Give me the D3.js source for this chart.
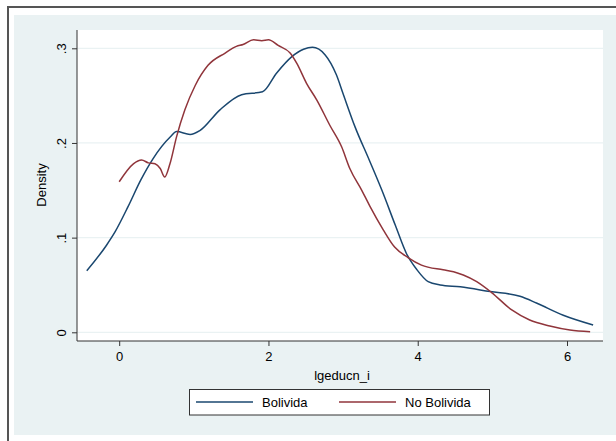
<!DOCTYPE html>
<html>
<head>
<meta charset="utf-8">
<script src="https://d3js.org/d3.v7.min.js"></script>
<style>
  body { margin: 0; background: #fff; }
  text { font-family: "Liberation Sans", Arial, sans-serif; fill: #000; }
</style>
</head>
<body>
<div id="chart"></div>
<script>
// density estimates
var bolX = [-0.435, -0.17, -0.056, 0.12, 0.29, 0.45, 0.68, 0.77, 0.95, 1.08, 1.35, 1.64, 1.92, 2.11, 2.31, 2.47, 2.59, 2.76, 2.91, 3.0, 3.16, 3.35, 3.52, 3.7, 3.85, 3.99, 4.14, 4.3, 4.57, 4.97, 5.37, 5.59, 5.95, 6.35];
var bolY = [0.065, 0.092, 0.106, 0.133, 0.161, 0.183, 0.206, 0.212, 0.209, 0.213, 0.235, 0.251, 0.254, 0.274, 0.291, 0.299, 0.301, 0.293, 0.272, 0.252, 0.217, 0.182, 0.150, 0.113, 0.083, 0.066, 0.0535, 0.050, 0.048, 0.043, 0.038, 0.031, 0.018, 0.0077];

var noX = [0.0, 0.19, 0.30, 0.39, 0.48, 0.55, 0.61, 0.68, 0.77, 0.88, 1.02, 1.19, 1.42, 1.57, 1.66, 1.80, 1.91, 2.0, 2.13, 2.29, 2.38, 2.51, 2.65, 2.82, 2.98, 3.09, 3.25, 3.36, 3.54, 3.69, 3.87, 4.05, 4.34, 4.48, 4.61, 4.79, 4.99, 5.26, 5.5, 5.77, 6.04, 6.31];
var noY = [0.159, 0.178, 0.182, 0.179, 0.178, 0.173, 0.164, 0.178, 0.207, 0.235, 0.261, 0.282, 0.295, 0.302, 0.304, 0.309, 0.308, 0.309, 0.303, 0.295, 0.284, 0.263, 0.245, 0.219, 0.196, 0.173, 0.150, 0.133, 0.108, 0.090, 0.079, 0.071, 0.066, 0.064, 0.0605, 0.0535, 0.042, 0.0236, 0.013, 0.0067, 0.0024, 0.0006];

var xTicks = [0, 2, 4, 6];
var yTicks = [0, 0.1, 0.2, 0.3];
var yTickLabels = ["0", ".1", ".2", ".3"];
var seriesNames = ["Bolivida", "No Bolivida"];
var seriesColors = ["#1a476f", "#90353b"];

var W = 616, H = 441;
var svg = d3.select("#chart").append("svg").attr("width", W).attr("height", H);

// outer frame and graph region
svg.append("rect").attr("x", 8).attr("y", 7).attr("width", W).attr("height", H)
  .attr("fill", "#fff").attr("stroke", "#555").attr("stroke-width", 2);
svg.append("rect").attr("x", 14).attr("y", 15).attr("width", W - 14).attr("height", 420)
  .attr("fill", "#eaf2f3");

var pl = 77, pr = 603, pt = 30, pb = 341;
svg.append("rect").attr("x", pl).attr("y", pt).attr("width", pr - pl).attr("height", pb - pt)
  .attr("fill", "#fff");

var x = d3.scaleLinear().domain([0, 6]).range([119.2, 567]);
var y = d3.scaleLinear().domain([0, 0.3]).range([332.3, 48.3]);

// grid
svg.append("g").selectAll("line").data(yTicks).join("line")
  .attr("x1", pl).attr("x2", pr)
  .attr("y1", function(d){ return y(d); }).attr("y2", function(d){ return y(d); })
  .attr("stroke", "#eaf2f3").attr("stroke-width", 1.2);

// lines
var sets = [[bolX, bolY], [noX, noY]];
sets.forEach(function(s, i) {
  var pts = s[0].map(function(v, j){ return [v, s[1][j]]; });
  var line = d3.line().x(function(d){ return x(d[0]); }).y(function(d){ return y(d[1]); })
    .curve(d3.curveMonotoneX);
  svg.append("path").attr("d", line(pts)).attr("fill", "none")
    .attr("stroke", seriesColors[i]).attr("stroke-width", 1.5);
});

// axes
var yAxis = d3.axisLeft(y).tickValues(yTicks).tickFormat(function(d, i){ return yTickLabels[i]; })
  .tickSize(5);
var gy = svg.append("g").attr("transform", "translate(" + pl + ",0)").call(yAxis);
gy.select(".domain").attr("d", "M0," + pt + "V" + pb).attr("stroke", "#333");
gy.selectAll(".tick line").attr("stroke", "#333");
gy.selectAll(".tick text").attr("font-size", 13).attr("font-family", "Liberation Sans, Arial, sans-serif")
  .attr("text-anchor", "middle").attr("x", 0).attr("y", -11).attr("dy", 0)
  .attr("transform", "rotate(-90)");

var xAxis = d3.axisBottom(x).tickValues(xTicks).tickFormat(d3.format("d")).tickSize(5).tickPadding(6);
var gx = svg.append("g").attr("transform", "translate(0," + pb + ")").call(xAxis);
gx.select(".domain").attr("d", "M" + pl + ",0H" + pr).attr("stroke", "#333");
gx.selectAll(".tick line").attr("stroke", "#333");
gx.selectAll(".tick text").attr("font-size", 13).attr("font-family", "Liberation Sans, Arial, sans-serif");

// axis titles
svg.append("text").attr("x", (pl + pr) / 2 + 2).attr("y", 380).attr("text-anchor", "middle")
  .attr("font-size", 13).text("lgeducn_i");
svg.append("text").attr("transform", "translate(46,185) rotate(-90)").attr("text-anchor", "middle")
  .attr("font-size", 13).text("Density");

// legend
svg.append("rect").attr("x", 189.5).attr("y", 389.5).attr("width", 300).attr("height", 25.5)
  .attr("fill", "#fff").attr("stroke", "#333").attr("stroke-width", 1);
var lx = [196, 339];
seriesNames.forEach(function(n, i) {
  svg.append("line").attr("x1", lx[i]).attr("x2", lx[i] + 57).attr("y1", 402).attr("y2", 402)
    .attr("stroke", seriesColors[i]).attr("stroke-width", 1.5);
  svg.append("text").attr("x", lx[i] + 66).attr("y", 407).attr("font-size", 13).text(n);
});
</script>
</body>
</html>
